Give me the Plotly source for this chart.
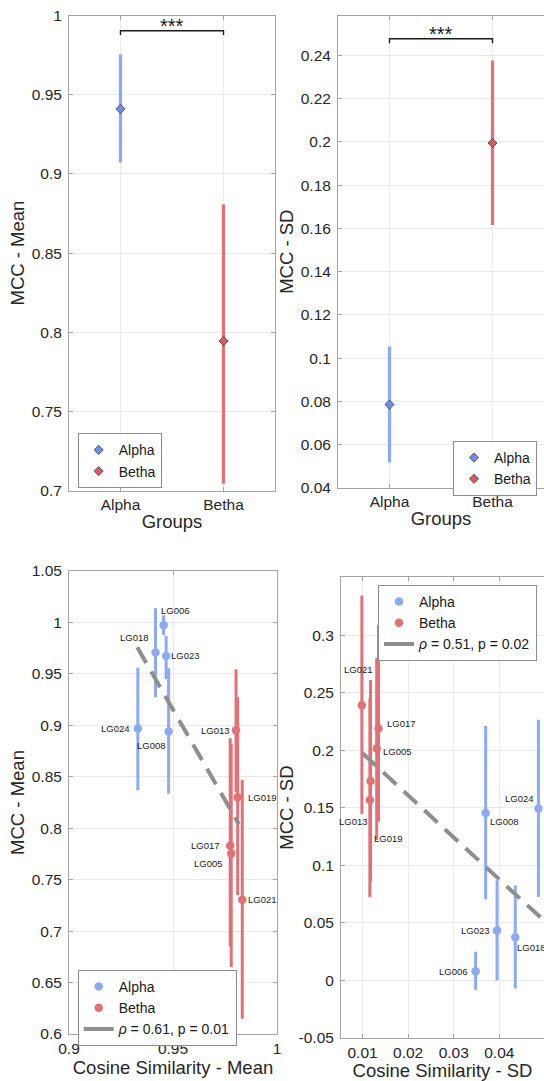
import plotly.graph_objects as go

# ---------------- data ----------------
groups = ["Alpha", "Betha"]
mcc_mean = [0.9411, 0.7945]
mcc_mean_lo = [0.9073, 0.7044]
mcc_mean_hi = [0.9756, 0.8807]
mcc_sd = [0.0785, 0.1995]
mcc_sd_lo = [0.0517, 0.1615]
mcc_sd_hi = [0.1054, 0.2376]
sig_label = "***"
sig_mean_y = [0.9878, 0.9904]   # bracket foot, bracket top
sig_sd_y = [0.2456, 0.2477]

alpha_ids = ["LG006", "LG018", "LG023", "LG024", "LG008"]
alpha_cos_mean = [0.9455, 0.9416, 0.9467, 0.9331, 0.9479]
alpha_mcc_mean = [0.9972, 0.9708, 0.9674, 0.8969, 0.8939]
alpha_mcc_mean_lo = [0.9877, 0.9274, 0.9450, 0.8370, 0.8336]
alpha_mcc_mean_hi = [1.0070, 1.0138, 0.9870, 0.9562, 0.9555]

betha_ids = ["LG013", "LG019", "LG017", "LG005", "LG021"]
betha_cos_mean = [0.9803, 0.9811, 0.9775, 0.9780, 0.9833]
betha_mcc_mean = [0.8951, 0.8302, 0.7830, 0.7754, 0.7305]
betha_mcc_mean_lo = [0.8350, 0.7350, 0.6850, 0.6650, 0.6148]
betha_mcc_mean_hi = [0.9545, 0.9274, 0.8875, 0.8820, 0.8469]

fit_mean_x = [0.9328, 0.9817]
fit_mean_y = [0.9758, 0.8038]
fit_mean_label = "<i>ρ</i> = 0.61, p = 0.01"

alpha_cos_sd = [0.0348, 0.0435, 0.0395, 0.04858, 0.0370]
alpha_mcc_sd = [0.0081, 0.0375, 0.0435, 0.1494, 0.1455]
alpha_mcc_sd_lo = [-0.0081, -0.0069, 0.0000, 0.0726, 0.0705]
alpha_mcc_sd_hi = [0.0249, 0.0825, 0.0870, 0.2265, 0.2211]

betha_cos_sd = [0.0116, 0.01175, 0.0135, 0.0131, 0.00985]
betha_mcc_sd = [0.1569, 0.1734, 0.2190, 0.2016, 0.2391]
betha_mcc_sd_lo = [0.0726, 0.0855, 0.1380, 0.1221, 0.1446]
betha_mcc_sd_hi = [0.2450, 0.2610, 0.3090, 0.2805, 0.3345]

fit_sd_x = [0.0100, 0.0498]
fit_sd_y = [0.1974, 0.0520]
fit_sd_label = "<i>ρ</i> = 0.51, p = 0.02"

tl_ticks = [0.7, 0.75, 0.8, 0.85, 0.9, 0.95, 1.0]
tl_text = ["0.7", "0.75", "0.8", "0.85", "0.9", "0.95", "1"]
tr_ticks = [0.04, 0.06, 0.08, 0.10, 0.12, 0.14, 0.16, 0.18, 0.20, 0.22, 0.24]
tr_text = ["0.04", "0.06", "0.08", "0.1", "0.12", "0.14", "0.16", "0.18", "0.2", "0.22", "0.24"]
bl_yticks = [0.6, 0.65, 0.7, 0.75, 0.8, 0.85, 0.9, 0.95, 1.0, 1.05]
bl_ytext = ["0.6", "0.65", "0.7", "0.75", "0.8", "0.85", "0.9", "0.95", "1", "1.05"]
bl_xticks = [0.9, 0.95, 1.0]
bl_xtext = ["0.9", "0.95", "1"]
br_yticks = [-0.05, 0.0, 0.05, 0.1, 0.15, 0.2, 0.25, 0.3]
br_ytext = ["-0.05", "0", "0.05", "0.1", "0.15", "0.2", "0.25", "0.3"]
br_xticks = [0.01, 0.02, 0.03, 0.04]
br_xtext = ["0.01", "0.02", "0.03", "0.04"]

# ---------------- style ----------------
W, H = 544, 1081
BLUE = "#8CA9F4"
RED = "#E27176"
GRAY = "#8E8E8E"
AXC = "#A3A3A3"
GRID = "#EBEBEB"
TXT = "#262626"
FONT = "Liberation Sans, Arial, Helvetica, sans-serif"


def dom_x(a, b):
    return [a / W, b / W]


def dom_y(top, bottom):
    return [1 - bottom / H, 1 - top / H]


fig = go.Figure()


def err(y, lo, hi):
    return dict(type="data", symmetric=False,
                array=[h - v for v, h in zip(y, hi)],
                arrayminus=[v - l for v, l in zip(y, lo)])


def add_group_panel(xa, ya, vals, lo, hi, legend):
    cols = [BLUE, RED]
    dark = ["#6F8FE6", "#D75C62"]
    for i, g in enumerate(groups):
        fig.add_trace(go.Scatter(
            x=[g], y=[vals[i]], mode="markers", xaxis=xa, yaxis=ya,
            marker=dict(size=0.1, color="rgba(0,0,0,0)"),
            error_y=dict(err([vals[i]], [lo[i]], [hi[i]]), color=cols[i], thickness=3.3, width=0),
            showlegend=False, hoverinfo="skip"))
    for i, g in enumerate(groups):
        fig.add_trace(go.Scatter(
            x=[g], y=[vals[i]], mode="markers", xaxis=xa, yaxis=ya, name=g,
            marker=dict(symbol="diamond", size=7, color=dark[i],
                        line=dict(color="#3C3C3C", width=0.8)),
            legend=legend))


def add_sig(xa, ya, sy):
    fig.add_trace(go.Scatter(
        x=[groups[0], groups[0], groups[1], groups[1]],
        y=[sy[0], sy[1], sy[1], sy[0]], mode="lines", xaxis=xa, yaxis=ya,
        line=dict(color="#1A1A1A", width=1.4), showlegend=False, hoverinfo="skip"))
    fig.add_annotation(x=0.5, y=sy[1], xref=xa, yref=ya, text=sig_label,
                       showarrow=False, yanchor="bottom", yshift=-8,
                       font=dict(size=20, color="#1A1A1A", family=FONT))


def add_scatter_panel(xa, ya, ax_, ay_, alo, ahi, bx, by, blo, bhi, fx, fy, flabel, legend):
    for xs, ys, lo, hi, c in [(ax_, ay_, alo, ahi, BLUE), (bx, by, blo, bhi, RED)]:
        fig.add_trace(go.Scatter(
            x=xs, y=ys, mode="markers", xaxis=xa, yaxis=ya,
            marker=dict(size=0.1, color="rgba(0,0,0,0)"),
            error_y=dict(err(ys, lo, hi), color=c, thickness=3, width=0),
            showlegend=False, hoverinfo="skip"))
    fig.add_trace(go.Scatter(x=fx, y=fy, mode="lines", xaxis=xa, yaxis=ya,
                             line=dict(color=GRAY, width=4, dash="18px,10px"),
                             showlegend=False, hoverinfo="skip"))
    fig.add_trace(go.Scatter(x=ax_, y=ay_, mode="markers", xaxis=xa, yaxis=ya, name="Alpha",
                             marker=dict(size=8.5, color=BLUE), legend=legend))
    fig.add_trace(go.Scatter(x=bx, y=by, mode="markers", xaxis=xa, yaxis=ya, name="Betha",
                             marker=dict(size=8.5, color=RED), legend=legend))
    fig.add_trace(go.Scatter(x=[None], y=[None], mode="lines", xaxis=xa, yaxis=ya,
                             name=flabel, line=dict(color=GRAY, width=4), legend=legend))


add_group_panel("x", "y", mcc_mean, mcc_mean_lo, mcc_mean_hi, "legend")
add_sig("x", "y", sig_mean_y)
add_group_panel("x2", "y2", mcc_sd, mcc_sd_lo, mcc_sd_hi, "legend2")
add_sig("x2", "y2", sig_sd_y)
add_scatter_panel("x3", "y3", alpha_cos_mean, alpha_mcc_mean, alpha_mcc_mean_lo, alpha_mcc_mean_hi,
                  betha_cos_mean, betha_mcc_mean, betha_mcc_mean_lo, betha_mcc_mean_hi,
                  fit_mean_x, fit_mean_y, fit_mean_label, "legend3")
add_scatter_panel("x4", "y4", alpha_cos_sd, alpha_mcc_sd, alpha_mcc_sd_lo, alpha_mcc_sd_hi,
                  betha_cos_sd, betha_mcc_sd, betha_mcc_sd_lo, betha_mcc_sd_hi,
                  fit_sd_x, fit_sd_y, fit_sd_label, "legend4")

# point labels: (xanchor, xshift, yshift)
lab_mean = {
    "LG006": ("left", -5, 15), "LG018": ("right", -5, 15), "LG023": ("left", 3, 0),
    "LG024": ("right", -6, 0), "LG008": ("right", -1, -14), "LG013": ("right", -4, 0),
    "LG019": ("left", 8, 0), "LG017": ("right", -8, 0), "LG005": ("right", -6, -10),
    "LG021": ("left", 4, 0),
}
lab_sd = {
    "LG021": ("center", -3, 36), "LG017": ("left", 6, 5), "LG005": ("left", 4, -3),
    "LG013": ("right", 0, -22), "LG019": ("left", 1, -58), "LG024": ("right", -2, 10),
    "LG008": ("left", 2, -8), "LG023": ("right", -5, 0), "LG018": ("left", 0, -10),
    "LG006": ("right", -6, 0),
}


def add_labels(xa, ya, ids, xs, ys, spec):
    for n, x, y in zip(ids, xs, ys):
        anc, dx, dy = spec[n]
        fig.add_annotation(x=x, y=y, xref=xa, yref=ya, text=n, showarrow=False,
                           xanchor=anc, yanchor="middle", xshift=dx, yshift=dy,
                           font=dict(size=9.5, color="#1A1A1A", family=FONT))


add_labels("x3", "y3", alpha_ids, alpha_cos_mean, alpha_mcc_mean, lab_mean)
add_labels("x3", "y3", betha_ids, betha_cos_mean, betha_mcc_mean, lab_mean)
add_labels("x4", "y4", alpha_ids, alpha_cos_sd, alpha_mcc_sd, lab_sd)
add_labels("x4", "y4", betha_ids, betha_cos_sd, betha_mcc_sd, lab_sd)

tickfont = dict(size=15.5, color=TXT, family=FONT)
titlefont = dict(size=18.5, color=TXT, family=FONT)
common = dict(showline=True, linecolor=AXC, linewidth=1, ticks="inside", ticklen=4,
              tickcolor=AXC, showgrid=True, gridcolor=GRID, gridwidth=1, zeroline=False,
              automargin=False, tickfont=tickfont)
ycommon = dict(common, ticklabelstandoff=3)

fig.update_layout(
    xaxis=dict(common, domain=dom_x(69, 275), anchor="y", type="category",
               range=[-0.5, 1.5], mirror="ticks",
               title=dict(text="Groups", font=titlefont, standoff=2)),
    yaxis=dict(ycommon, domain=dom_y(15.6, 490.6), anchor="x", range=[0.7, 1.0],
               tickvals=tl_ticks, ticktext=tl_text, mirror="ticks",
               title=dict(text="MCC - Mean", font=titlefont, standoff=2)),
    xaxis2=dict(common, domain=dom_x(338, 544), anchor="y2", type="category",
                range=[-0.5, 1.5], mirror="ticks",
                title=dict(text="Groups", font=titlefont, standoff=2)),
    yaxis2=dict(ycommon, domain=dom_y(15.6, 487.8), anchor="x2", range=[0.04, 0.2584],
                tickvals=tr_ticks, ticktext=tr_text, mirror=False,
                title=dict(text="MCC - SD", font=titlefont, standoff=2)),
    xaxis3=dict(common, domain=dom_x(69, 277), anchor="y3", range=[0.9, 1.0],
                tickvals=bl_xticks, ticktext=bl_xtext, mirror="ticks",
                title=dict(text="Cosine Similarity - Mean", font=titlefont, standoff=2)),
    yaxis3=dict(ycommon, domain=dom_y(571, 1034), anchor="x3", range=[0.6, 1.05],
                tickvals=bl_yticks, ticktext=bl_ytext, mirror="ticks",
                title=dict(text="MCC - Mean", font=titlefont, standoff=2)),
    xaxis4=dict(common, domain=dom_x(341, 544), anchor="y4", range=[0.00527, 0.0498],
                tickvals=br_xticks, ticktext=br_xtext, mirror="ticks",
                title=dict(text="Cosine Similarity - SD", font=titlefont, standoff=4)),
    yaxis4=dict(ycommon, domain=dom_y(577.2, 1038), anchor="x4", range=[-0.05, 0.3504],
                tickvals=br_yticks, ticktext=br_ytext, mirror=False,
                title=dict(text="MCC - SD", font=titlefont, standoff=0)),
)

legfont = dict(size=14, color="#1A1A1A", family=FONT)
legcommon = dict(bgcolor="white", bordercolor="#8C8C8C", borderwidth=1, font=legfont,
                 yanchor="top", tracegroupgap=0, itemwidth=30)
fig.update_layout(
    legend=dict(legcommon, x=77.7 / W, y=1 - 433.3 / H, xanchor="left"),
    legend2=dict(legcommon, x=537 / W, y=1 - 441 / H, xanchor="right"),
    legend3=dict(legcommon, x=77.7 / W, y=1 - 970 / H, xanchor="left"),
    legend4=dict(legcommon, x=537 / W, y=1 - 585 / H, xanchor="right"),
)

fig.update_layout(width=W, height=H, autosize=False,
                  margin=dict(l=0, r=0, t=0, b=0, pad=0),
                  paper_bgcolor="white", plot_bgcolor="white",
                  font=dict(family=FONT, color=TXT), template="none")

fig.write_html("out.html",
               config={"displayModeBar": False},
               post_script="document.body.style.margin='0';"
                           "document.body.style.overflow='hidden';"
                           "document.documentElement.style.overflow='hidden';")
